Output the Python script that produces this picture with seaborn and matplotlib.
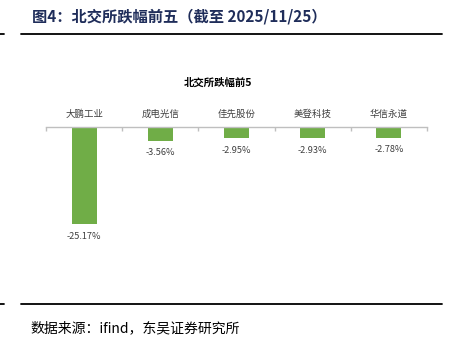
import matplotlib
matplotlib.use("Agg")
import matplotlib.pyplot as plt
import seaborn as sns
import pandas as pd
from matplotlib.lines import Line2D

categories = ["大鹏工业", "成电光信", "佳先股份", "美登科技", "华信永道"]
values = [-25.17, -3.56, -2.95, -2.93, -2.78]
value_labels = ["-25.17%", "-3.56%", "-2.95%", "-2.93%", "-2.78%"]

sns.set_theme(style="white")
plt.rcParams["font.family"] = ["Noto Sans CJK SC", "DejaVu Sans"]
plt.rcParams["axes.unicode_minus"] = False

W, H = 456, 352
fig = plt.figure(figsize=(W / 100, H / 100), dpi=100)
fig.patch.set_facecolor("white")

left, right, top, bottom = 46, 427, 127, 250
ax = fig.add_axes([left / W, 1 - bottom / H, (right - left) / W, (bottom - top) / H])

df = pd.DataFrame({"cat": categories, "val": values})
sns.barplot(data=df, x="cat", y="val", color="#70AD47", width=0.33,
            saturation=1, ax=ax, edgecolor="none")
ax.set_ylim(-31.95, 0)
ax.set_xlim(-0.5, len(categories) - 0.5)
ax.set_xlabel("")
ax.set_ylabel("")
ax.set_yticks([])

for s in ["left", "right", "bottom"]:
    ax.spines[s].set_visible(False)
ax.spines["top"].set_visible(True)
ax.spines["top"].set_color("#BFBFBF")
ax.spines["top"].set_linewidth(1.0)

ax.xaxis.tick_top()
ax.set_xticks(range(len(categories)))
ax.set_xticklabels(categories, fontsize=6.8, color="#404040")
ax.tick_params(axis="x", which="major", length=0, pad=6)
ax.set_xticks([i - 0.5 for i in range(len(categories) + 1)], minor=True)
ax.tick_params(axis="x", which="minor", length=3, direction="in",
               color="#BFBFBF", width=1.0, top=True, bottom=False)

for i, (v, lab) in enumerate(zip(values, value_labels)):
    ax.annotate(lab, (i, v), xytext=(0, -5.5), textcoords="offset points",
                ha="center", va="top", fontsize=6.6, color="#404040")

fig.text(218 / W, 1 - 83 / H, "北交所跌幅前5", ha="center", va="center",
         fontsize=7.5, fontweight="bold", color="#000000")

fig.text(32 / W, 1 - 17 / H, "图4：北交所跌幅前五（截至 2025/11/25）",
         ha="left", va="center", fontsize=11, fontweight="bold", color="#1F2D5A")

for y in (34, 304):
    fig.add_artist(Line2D([21 / W, 442 / W], [1 - y / H, 1 - y / H],
                          color="black", lw=1.3, transform=fig.transFigure))
    fig.add_artist(Line2D([0, 4 / W], [1 - y / H, 1 - y / H],
                          color="black", lw=1.3, transform=fig.transFigure))

fig.text(30 / W, 1 - 328 / H, "数据来源：ifind，东吴证券研究所",
         ha="left", va="center", fontsize=10, color="#000000")

fig.savefig("out.png", dpi=100, facecolor="white")
